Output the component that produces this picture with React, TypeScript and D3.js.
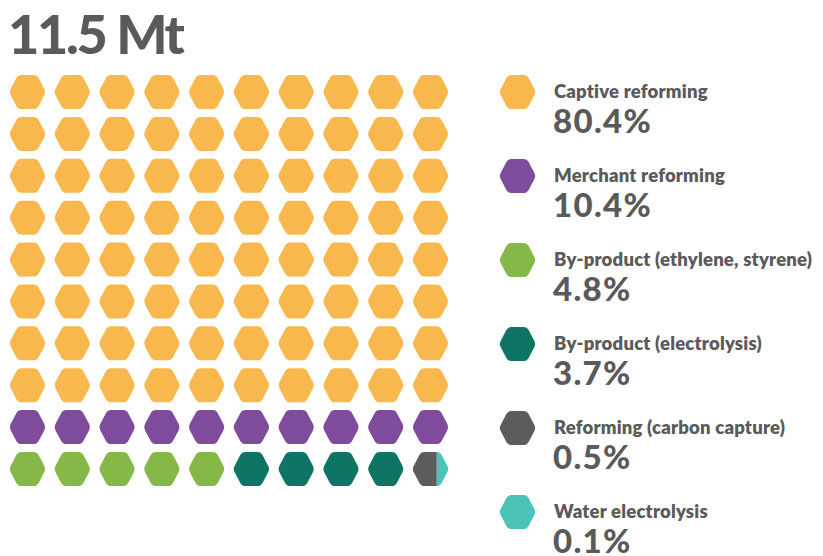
import React from "react";
import * as d3 from "d3";

const totalLabel = "11.5 Mt";
const categories = [
  "Captive reforming",
  "Merchant reforming",
  "By-product (ethylene, styrene)",
  "By-product (electrolysis)",
  "Reforming (carbon capture)",
  "Water electrolysis",
];
const shares = [80.4, 10.4, 4.8, 3.7, 0.5, 0.1];
// cells of the 10x10 waffle taken by each category (last cell is split)
const cellCounts = [80, 10, 5, 4, 0.67, 0.33];
const colors = ["#F8B84D", "#7F4B9D", "#86B847", "#0E7565", "#5C5C5C", "#4DC2B7"];

const W = 823;
const H = 556;
const COLS = 10;
const ROWS = 10;
const HEX_A = 18.5; // half width
const HEX_B = 9.5; // half top edge
const HEX_H = 17; // half height
const CORNER = 3.5;
const TEXT = "#5A5A5A";
const FONT = "Lato, 'Open Sans', sans-serif";

function roundedHexPath(cx: number, cy: number): string {
  const pts: [number, number][] = [
    [cx - HEX_A, cy],
    [cx - HEX_B, cy - HEX_H],
    [cx + HEX_B, cy - HEX_H],
    [cx + HEX_A, cy],
    [cx + HEX_B, cy + HEX_H],
    [cx - HEX_B, cy + HEX_H],
  ];
  const n = pts.length;
  const path = d3.path();
  for (let i = 0; i < n; i++) {
    const p = pts[i];
    const prev = pts[(i - 1 + n) % n];
    const next = pts[(i + 1) % n];
    const d1 = Math.hypot(prev[0] - p[0], prev[1] - p[1]);
    const d2 = Math.hypot(next[0] - p[0], next[1] - p[1]);
    const a: [number, number] = [p[0] + ((prev[0] - p[0]) * CORNER) / d1, p[1] + ((prev[1] - p[1]) * CORNER) / d1];
    const b: [number, number] = [p[0] + ((next[0] - p[0]) * CORNER) / d2, p[1] + ((next[1] - p[1]) * CORNER) / d2];
    if (i === 0) path.moveTo(a[0], a[1]);
    else path.lineTo(a[0], a[1]);
    path.quadraticCurveTo(p[0], p[1], b[0], b[1]);
  }
  path.closePath();
  return path.toString();
}

type Piece = { cell: number; cat: number; from: number; to: number };

function buildPieces(): Piece[] {
  const pieces: Piece[] = [];
  const bounds = d3.cumsum(cellCounts);
  const starts = cellCounts.map((_, i) => (i === 0 ? 0 : bounds[i - 1]));
  for (let c = 0; c < COLS * ROWS; c++) {
    cellCounts.forEach((_, k) => {
      const lo = Math.max(c, starts[k]);
      const hi = Math.min(c + 1, bounds[k]);
      if (hi - lo > 1e-6) pieces.push({ cell: c, cat: k, from: lo - c, to: hi - c });
    });
  }
  return pieces;
}

export default function App() {
  const x = d3.scaleLinear().domain([0, COLS - 1]).range([27.5, 430.5]);
  const y = d3.scaleLinear().domain([0, ROWS - 1]).range([92, 469]);
  const ly = d3.scaleLinear().domain([0, categories.length - 1]).range([92, 512]);
  const legendX = 517.5;
  const textX = 554;
  const pieces = buildPieces();

  return (
    <div style={{ position: "absolute", left: 0, top: 0 }}>
      <svg width={W} height={H} style={{ display: "block", background: "#fff" }}>
        <defs>
          {pieces
            .filter((p) => p.to - p.from < 1)
            .map((p) => {
              const col = p.cell % COLS;
              const cx = x(col);
              const x0 = cx - HEX_A + p.from * 2 * HEX_A;
              const x1 = cx - HEX_A + p.to * 2 * HEX_A;
              return (
                <clipPath id={`clip-${p.cell}-${p.cat}`} key={`c-${p.cell}-${p.cat}`}>
                  <rect x={x0} y={0} width={x1 - x0} height={H} />
                </clipPath>
              );
            })}
        </defs>
        <text x={8} y={54} fontFamily={FONT} fontWeight={900} fontSize={54} letterSpacing={-2.3} fill={TEXT}>
          {totalLabel}
        </text>
        <g>
          {pieces.map((p) => {
            const col = p.cell % COLS;
            const row = Math.floor(p.cell / COLS);
            const partial = p.to - p.from < 1;
            return (
              <path
                key={`h-${p.cell}-${p.cat}`}
                d={roundedHexPath(x(col), y(row))}
                fill={colors[p.cat]}
                clipPath={partial ? `url(#clip-${p.cell}-${p.cat})` : undefined}
              />
            );
          })}
        </g>
        <g>
          {categories.map((c, i) => (
            <g key={c}>
              <path d={roundedHexPath(legendX, ly(i))} fill={colors[i]} />
              <text x={textX} y={ly(i) + 6} fontFamily={FONT} fontWeight={800} fontSize={18.5} letterSpacing={0.2} fill={TEXT}>
                {c}
              </text>
              <text x={textX - 1} y={ly(i) + 41} fontFamily={FONT} fontWeight={900} fontSize={33} letterSpacing={1.3} fill={TEXT}>
                {`${shares[i].toFixed(1)}%`}
              </text>
            </g>
          ))}
        </g>
      </svg>
    </div>
  );
}
